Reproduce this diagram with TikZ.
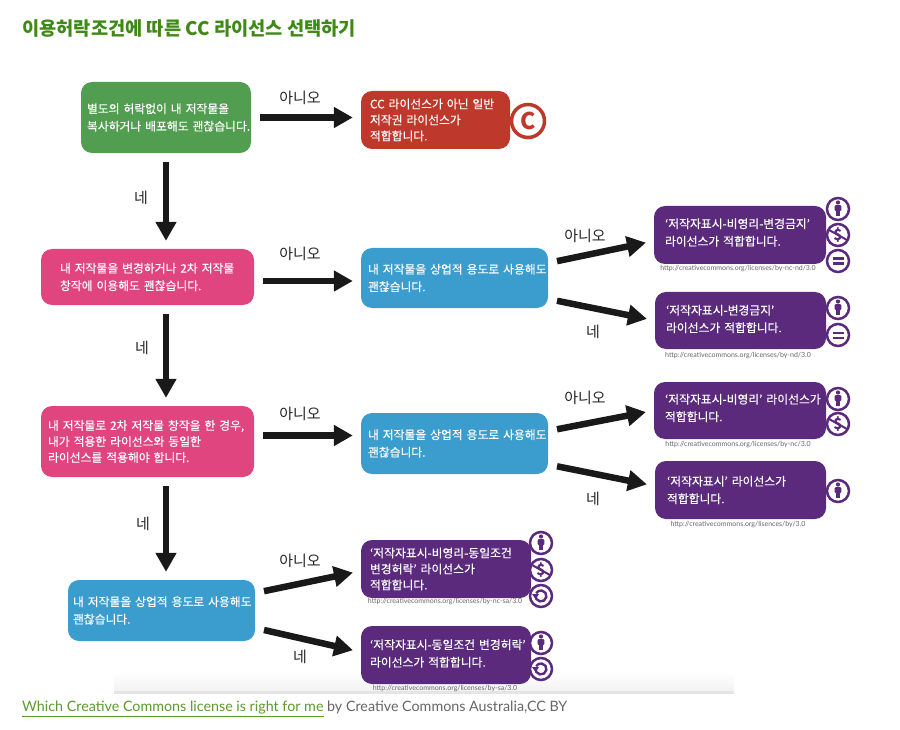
\documentclass[tikz,border=0pt]{standalone}
\usepackage{fontspec}
\setmainfont{Noto Sans CJK KR}
\newfontfamily\boxfont[FakeBold=0.25]{Noto Sans CJK KR}
\newfontfamily\latinfont{Lato}
\usepackage{xcolor}
\usetikzlibrary{arrows.meta,shadings}
\definecolor{ccgreen}{HTML}{519E50}
\definecolor{ccred}{HTML}{BF382C}
\definecolor{ccpink}{HTML}{E0457F}
\definecolor{ccblue}{HTML}{3A9DCE}
\definecolor{ccpurple}{HTML}{5B2A7C}
\definecolor{cctitle}{HTML}{3F8A17}
\definecolor{cclink}{HTML}{5C9A2E}
\definecolor{ccgrey}{HTML}{666666}
\tikzset{
    box/.style={rounded corners=11pt,anchor=center,align=left,text=white,font=\boxfont\fontsize{11.8}{17.5}\selectfont,inner xsep=0pt,inner ysep=0pt},
    tight/.style={font=\boxfont\fontsize{11.8}{16}\selectfont},
    pad/.style={execute at begin node={\leftskip=#1pt\rightskip=-60pt plus 1fil\relax}},
    lift/.style={execute at end node={\par\vspace{#1pt}}},
    bigarrow/.style={line width=6.5pt,draw=black!90,-{Triangle[length=19pt,width=20pt]},shorten <=9pt,shorten >=8pt},
    answer/.style={font=\fontsize{15}{15}\selectfont,text=black!85},
    url/.style={font=\latinfont\fontsize{7}{7}\selectfont,text=black!60,inner sep=0pt},
    ccicon/.style={circle,draw=ccpurple,fill=white,line width=2.5pt,minimum size=22pt,inner sep=0pt},
    personmark/.pic={
        \fill[ccpurple] (0,-6.5) circle (2.1);
        \fill[ccpurple,rounded corners=1pt] (-3.4,-3.8) rectangle (3.4,2);
        \fill[ccpurple] (-2.2,0) rectangle (2.2,7);
    },
    ncmark/.pic={
        \node[text=ccpurple,font=\bfseries\fontsize{15}{15}\selectfont,inner sep=0pt] {\$};
        \draw[ccpurple,line width=2pt] (-9,-5) -- (9,5);
    },
    ndmark/.pic={
        \fill[ccpurple] (-5.5,-3.5) rectangle (5.5,-1);
        \fill[ccpurple] (-5.5,1.5) rectangle (5.5,4);
    },
    samark/.pic={
        \draw[ccpurple,line width=2.4pt] (-5.5,-1) arc[start angle=190,end angle=-150,radius=5.5];
        \fill[ccpurple] (-9,-2) -- (-2,-2) -- (-5.5,3) -- cycle;
    },
}
\begin{document}
\begin{tikzpicture}[x=1pt,y=-1pt]
    \useasboundingbox[fill=white] (0,0) rectangle (900,730);
    \shade[top color=white,bottom color=black!5] (114,672) rectangle (734,691);
    \fill[black!10] (114,691) rectangle (734,694);
    \node[anchor=west,inner sep=0pt,text=cctitle,font=\bfseries\fontsize{18.7}{19}\selectfont] (title) at (22,28) {이용허락조건에 따른 CC 라이선스 선택하기};

    \node[box,pad=6,fill=ccgreen,minimum height=71pt,text width=170pt] (green) at (166,117.5) {별도의 허락없이 내 저작물을\\복사하거나 배포해도 괜찮습니다.};
    \node[box,tight,pad=9,fill=ccred,minimum height=58pt,text width=149pt] (red) at (435.5,120) {CC 라이선스가 아닌 일반\\저작권 라이선스가\\적합합니다.};
    \node[box,pad=19,fill=ccpink,minimum height=56pt,text width=213pt] (pinkone) at (147.5,277) {내 저작물을 변경하거나 2차 저작물\\창작에 이용해도 괜찮습니다.};
    \node[box,pad=7,fill=ccblue,minimum height=60pt,text width=187pt] (blueone) at (454.5,278) {내 저작물을 상업적 용도로 사용해도\\괜찮습니다.};
    \node[box,tight,pad=7,fill=ccpink,minimum height=71pt,text width=213pt] (pinktwo) at (147.5,441.5) {내 저작물로 2차 저작물 창작을 한 경우,\\내가 적용한 라이선스와 동일한\\라이선스를 적용해야 합니다.};
    \node[box,pad=7,fill=ccblue,minimum height=61pt,text width=187pt] (bluetwo) at (454.5,443.5) {내 저작물을 상업적 용도로 사용해도\\괜찮습니다.};
    \node[box,pad=5,fill=ccblue,minimum height=61pt,text width=187pt] (bluethree) at (161.5,610.5) {내 저작물을 상업적 용도로 사용해도\\괜찮습니다.};

    \node[box,lift=5,pad=11,fill=ccpurple,minimum height=58pt,text width=172pt] (byncnd) at (740,235) {‘저작자표시-비영리-변경금지’\\라이선스가 적합합니다.};
    \node[box,lift=3,pad=11,fill=ccpurple,minimum height=57pt,text width=171pt] (bynd) at (740.5,320.5) {‘저작자표시-변경금지’\\라이선스가 적합합니다.};
    \node[box,lift=5,pad=11,fill=ccpurple,minimum height=57pt,text width=172pt] (bync) at (740,410.5) {‘저작자표시-비영리’ 라이선스가\\적합합니다.};
    \node[box,pad=12,fill=ccpurple,minimum height=58pt,text width=171pt] (by) at (740.5,490) {‘저작자표시’ 라이선스가\\적합합니다.};
    \node[box,tight,pad=9,fill=ccpurple,minimum height=58pt,text width=170pt] (byncsa) at (446,569) {‘저작자표시-비영리-동일조건\\변경허락’ 라이선스가\\적합합니다.};
    \node[box,lift=3,pad=9,fill=ccpurple,minimum height=58pt,text width=170pt] (bysa) at (446,655) {‘저작자표시-동일조건 변경허락’\\라이선스가 적합합니다.};

    \node[circle,draw=ccred,fill=white,line width=3.5pt,minimum size=33pt,inner sep=0pt,text=ccred,font=\bfseries\fontsize{23}{23}\selectfont] (copyright) at (528,121) {C};

    \node[ccicon] (iconbyone) at (838,209) {};
    \pic at (iconbyone) {personmark};
    \node[ccicon] (iconncone) at (838,235) {};
    \pic at (iconncone) {ncmark};
    \node[ccicon] (iconndone) at (838,261) {};
    \pic at (iconndone) {ndmark};
    \node[ccicon] (iconbytwo) at (838,308) {};
    \pic at (iconbytwo) {personmark};
    \node[ccicon] (iconndtwo) at (838,335) {};
    \pic at (iconndtwo) {ndmark};
    \node[ccicon] (iconbythree) at (838,399) {};
    \pic at (iconbythree) {personmark};
    \node[ccicon] (iconnctwo) at (838,424) {};
    \pic at (iconnctwo) {ncmark};
    \node[ccicon] (iconbyfour) at (838,491) {};
    \pic at (iconbyfour) {personmark};
    \node[ccicon] (iconbyfive) at (541,543) {};
    \pic at (iconbyfive) {personmark};
    \node[ccicon] (iconncthree) at (541,570) {};
    \pic at (iconncthree) {ncmark};
    \node[ccicon] (iconsaone) at (541,596) {};
    \pic at (iconsaone) {samark};
    \node[ccicon] (iconbysix) at (541,643) {};
    \pic at (iconbysix) {personmark};
    \node[ccicon] (iconsatwo) at (541,669) {};
    \pic at (iconsatwo) {samark};

    \node[url] (urlone) at (738,268.5) {http://creativecommons.org/licenses/by-nc-nd/3.0};
    \node[url] (urltwo) at (738,355.5) {http://creativecommons.org/licenses/by-nd/3.0};
    \node[url] (urlthree) at (738,445) {http://creativecommons.org/licenses/by-nc/3.0};
    \node[url] (urlfour) at (738,524.5) {http://creativecommons.org/lisences/by/3.0};
    \node[url] (urlfive) at (445,602) {http://creativecommons.org/licenses/by-nc-sa/3.0};
    \node[url] (urlsix) at (445,689) {http://creativecommons.org/licenses/by-sa/3.0};

    \draw[bigarrow] (green.east) -- (green.east -| red.west);
    \draw[bigarrow] (green.south) -- (green.south |- pinkone.north);
    \draw[bigarrow] ([yshift=-4pt]pinkone.east) -- ([yshift=-4pt]pinkone.east -| blueone.west);
    \draw[bigarrow] (pinkone.south -| green.south) -- (green.south |- pinktwo.north);
    \draw[bigarrow] ([yshift=6pt]pinktwo.east) -- ([yshift=6pt]pinktwo.east -| bluetwo.west);
    \draw[bigarrow] (pinktwo.south -| green.south) -- (green.south |- bluethree.north);
    \draw[bigarrow] ([yshift=15pt]blueone.east) -- ([yshift=-6pt]byncnd.west);
    \draw[bigarrow] ([yshift=-21pt]blueone.east) -- (bynd.west);
    \draw[bigarrow] ([yshift=12.5pt]bluetwo.east) -- (bync.west);
    \draw[bigarrow] ([yshift=-21pt]bluetwo.east) -- ([yshift=4pt]by.west);
    \draw[bigarrow] ([yshift=17.5pt]bluethree.east) -- ([yshift=-2pt]byncsa.west);
    \draw[bigarrow] ([yshift=-17.5pt]bluethree.east) -- ([yshift=3pt]bysa.west);

    \node[answer] (noone) at (300,98) {아니오};
    \node[answer] (yesone) at (141,198) {네};
    \node[answer] (notwo) at (300,254) {아니오};
    \node[answer] (yestwo) at (142,348) {네};
    \node[answer] (nothree) at (300,414) {아니오};
    \node[answer] (yesthree) at (143,524) {네};
    \node[answer] (nofour) at (585,236) {아니오};
    \node[answer] (yesfour) at (593,332) {네};
    \node[answer] (nofive) at (585,398) {아니오};
    \node[answer] (yesfive) at (593,499) {네};
    \node[answer] (nosix) at (300,561) {아니오};
    \node[answer] (yessix) at (300,657) {네};

    \node[anchor=west,inner sep=0pt,font=\latinfont\fontsize{14.3}{15}\selectfont,text=ccgrey] (credit) at (22,709) {\textcolor{cclink}{\underline{Which Creative Commons license is right for me}} by Creative Commons Australia,CC BY};
\end{tikzpicture}
\end{document}
